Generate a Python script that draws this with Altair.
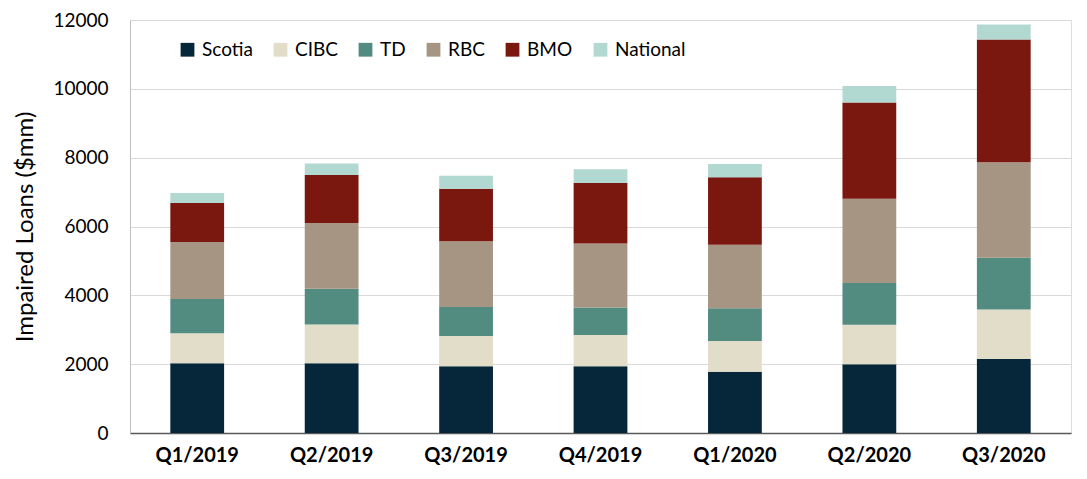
import altair as alt
import pandas as pd

quarters = ["Q1/2019", "Q2/2019", "Q3/2019", "Q4/2019", "Q1/2020", "Q2/2020", "Q3/2020"]
banks = ["Scotia", "CIBC", "TD", "RBC", "BMO", "National"]
colors = ["#062639", "#e2ddc9", "#528b80", "#a69583", "#7a1810", "#b1d9d1"]

scotia = [2030, 2030, 1940, 1940, 1780, 2000, 2150]
cibc = [870, 1120, 875, 905, 895, 1145, 1440]
td = [990, 1040, 845, 805, 950, 1210, 1500]
rbc = [1660, 1910, 1910, 1855, 1845, 2450, 2775]
bmo = [1130, 1400, 1530, 1760, 1960, 2795, 3565]
national = [290, 330, 375, 395, 385, 480, 440]

series = [scotia, cibc, td, rbc, bmo, national]
rows = []
for bi, (b, vals) in enumerate(zip(banks, series)):
    for q, v in zip(quarters, vals):
        rows.append({"quarter": q, "bank": b, "value": v, "order": bi})
df = pd.DataFrame(rows)

FONT = "Lato"

chart = alt.Chart(df).mark_bar().encode(
    x=alt.X("quarter:N", sort=quarters, title=None,
            scale=alt.Scale(paddingInner=0.6, paddingOuter=0.3),
            axis=alt.Axis(labelAngle=0, labelFontWeight="bold", labelFontSize=20,
                          labelColor="#000000", ticks=False, domainColor="#595959",
                          domainWidth=1.5, labelPadding=12, labelFont=FONT)),
    y=alt.Y("value:Q", stack="zero", title="Impaired Loans ($mm)",
            scale=alt.Scale(domain=[0, 12000]),
            axis=alt.Axis(values=[0, 2000, 4000, 6000, 8000, 10000, 12000], format="d",
                          ticks=False, labelFontSize=19, labelColor="#000000",
                          labelPadding=22, titleFontSize=24, titleFontWeight="normal",
                          titleColor="#000000", titlePadding=15, gridColor="#d9d9d9",
                          domainColor="#bfbfbf", labelFont=FONT, titleFont=FONT)),
    color=alt.Color("bank:N", scale=alt.Scale(domain=banks, range=colors),
                    legend=alt.Legend(title=None, orient="none", direction="horizontal",
                                      legendX=48, legendY=20, symbolType="square",
                                      symbolSize=190, symbolStrokeWidth=0,
                                      labelFontSize=19, labelColor="#000000",
                                      labelFont=FONT, columnPadding=18, labelOffset=5)),
    order=alt.Order("order:Q", sort="ascending"),
).properties(
    width=941, height=413,
    autosize=alt.AutoSizeParams(type="none"),
    padding={"left": 122, "top": 12, "right": 8, "bottom": 38},
).configure_view(stroke=None).configure(font=FONT)

chart.save("out.html", embed_options={"renderer": "svg", "actions": False})
